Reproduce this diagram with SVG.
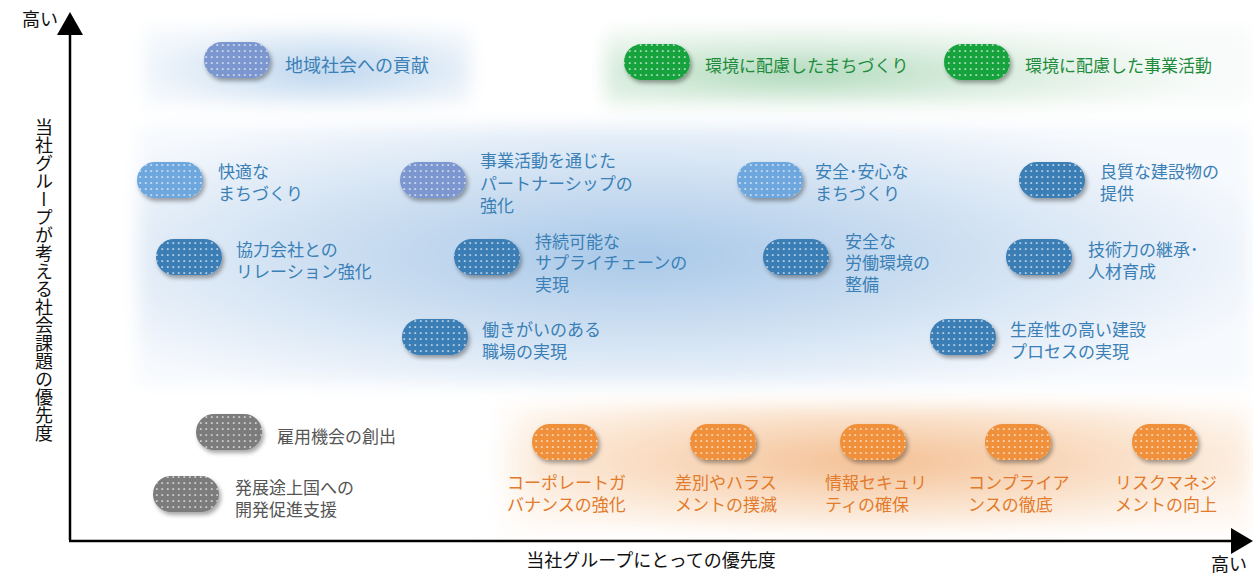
<svg xmlns="http://www.w3.org/2000/svg" width="1253" height="576" viewBox="0 0 1253 576">
<style>
text{font-family:"Noto Sans CJK JP","Noto Sans",sans-serif;font-size:17px}
.ax{font-size:18px;fill:#111}
.tb{fill:#3a80b6}.tg{fill:#1f8c3d}.tk{fill:#555}.to{fill:#e27b2b}
.pl{filter:url(#sh)}
.dots{fill:url(#dp)}
.c1{fill:#7b97d0}.c2{fill:#6ea7dd}.c3{fill:#3b7db5}.c4{fill:#17a23c}.c5{fill:#7b7b7b}.c6{fill:#f0903a}
</style>
<defs>
<pattern id="dp" width="5.5" height="6" patternUnits="userSpaceOnUse">
<circle cx="2.75" cy="3" r="0.85" fill="#fff"/>
</pattern>
<filter id="sh" x="-20%" y="-30%" width="150%" height="180%">
<feDropShadow dx="2" dy="3" stdDeviation="2" flood-color="#000" flood-opacity="0.35"/>
</filter>
<filter id="bl" x="-10%" y="-30%" width="120%" height="160%"><feGaussianBlur stdDeviation="9"/></filter>
<radialGradient id="gTop" cx="0.55" cy="0.55" r="0.6">
<stop offset="0" stop-color="#bcd5ee"/><stop offset="0.6" stop-color="#deeaf6"/><stop offset="1" stop-color="#f4f8fc"/>
</radialGradient>
<radialGradient id="gGreen" cx="0.3" cy="0.6" r="0.65">
<stop offset="0" stop-color="#acd8b8"/><stop offset="0.45" stop-color="#d7ecdc"/><stop offset="1" stop-color="#f8fbf9"/>
</radialGradient>
<radialGradient id="gBlue" cx="0.45" cy="0.5" r="0.6">
<stop offset="0" stop-color="#a8c8e8"/><stop offset="0.5" stop-color="#cfe0f2"/><stop offset="1" stop-color="#f6f9fd"/>
</radialGradient>
<radialGradient id="gOr" cx="0.5" cy="0.45" r="0.6">
<stop offset="0" stop-color="#f4bf92"/><stop offset="0.5" stop-color="#f9dcc2"/><stop offset="1" stop-color="#fef7f0"/>
</radialGradient>
<linearGradient id="fadeL" x1="0" x2="1" y1="0" y2="0">
<stop offset="0" stop-color="#fff"/><stop offset="1" stop-color="#fff" stop-opacity="0"/>
</linearGradient>
</defs>
<rect width="1253" height="576" fill="#fff"/>
<g id="backgrounds">
<g filter="url(#bl)">
<rect x="145" y="28" width="325" height="76" fill="url(#gTop)"/>
<rect x="605" y="28" width="645" height="76" fill="url(#gGreen)"/>
<rect x="138" y="126" width="1112" height="258" fill="url(#gBlue)"/>
<rect x="495" y="405" width="755" height="124" fill="url(#gOr)"/>
</g>
<rect x="480" y="395" width="60" height="140" fill="url(#fadeL)"/>
</g>
<g id="axes">
<line x1="70" y1="540" x2="70" y2="32" stroke="#000" stroke-width="2.5"/>
<polygon points="70,12 57,35 83,35" fill="#000"/>
<line x1="69" y1="541" x2="1234" y2="541" stroke="#000" stroke-width="2.5"/>
<polygon points="1253,541 1231,528 1231,554" fill="#000"/>
<text class="ax" x="22" y="26">高い</text>
<text class="ax" x="1211" y="571">高い</text>
<text class="ax" x="651" y="567" text-anchor="middle">当社グループにとっての優先度</text>
<text class="ax" x="44" y="118" style="writing-mode:vertical-rl" text-anchor="start">当社グループが考える社会課題の優先度</text>
</g>
<g id="n1"><g class="pl"><rect x="204" y="42" width="66" height="36" rx="18" class="c1"/></g><rect x="204" y="42" width="66" height="36" rx="18" class="dots"/><text class="tb" x="285" y="72" style="font-size:18px">地域社会への貢献</text></g>
<g id="n2"><g class="pl"><rect x="624" y="44" width="66" height="36" rx="18" class="c4"/></g><rect x="624" y="44" width="66" height="36" rx="18" class="dots"/><text class="tg" x="705" y="72">環境に配慮したまちづくり</text></g>
<g id="n3"><g class="pl"><rect x="944" y="44" width="66" height="36" rx="18" class="c4"/></g><rect x="944" y="44" width="66" height="36" rx="18" class="dots"/><text class="tg" x="1025" y="72">環境に配慮した事業活動</text></g>
<g id="n4"><g class="pl"><rect x="137" y="162" width="66" height="36" rx="18" class="c2"/></g><rect x="137" y="162" width="66" height="36" rx="18" class="dots"/><text class="tb" x="218" y="178">快適な<tspan x="218" dy="22">まちづくり</tspan></text></g>
<g id="n5"><g class="pl"><rect x="400" y="162" width="66" height="36" rx="18" class="c1"/></g><rect x="400" y="162" width="66" height="36" rx="18" class="dots"/><text class="tb" x="480" y="167">事業活動を通じた<tspan x="480" dy="23">パートナーシップの</tspan><tspan x="480" dy="22">強化</tspan></text></g>
<g id="n6"><g class="pl"><rect x="737" y="162" width="66" height="36" rx="18" class="c2"/></g><rect x="737" y="162" width="66" height="36" rx="18" class="dots"/><text class="tb" x="815" y="178">安全･安心な<tspan x="815" dy="22">まちづくり</tspan></text></g>
<g id="n7"><g class="pl"><rect x="1019" y="162" width="66" height="36" rx="18" class="c3"/></g><rect x="1019" y="162" width="66" height="36" rx="18" class="dots"/><text class="tb" x="1100" y="178">良質な建設物の<tspan x="1100" dy="22">提供</tspan></text></g>
<g id="n8"><g class="pl"><rect x="156" y="239" width="66" height="36" rx="18" class="c3"/></g><rect x="156" y="239" width="66" height="36" rx="18" class="dots"/><text class="tb" x="236" y="256">協力会社との<tspan x="236" dy="22">リレーション強化</tspan></text></g>
<g id="n9"><g class="pl"><rect x="454" y="239" width="66" height="36" rx="18" class="c3"/></g><rect x="454" y="239" width="66" height="36" rx="18" class="dots"/><text class="tb" x="535" y="248">持続可能な<tspan x="535" dy="21">サプライチェーンの</tspan><tspan x="535" dy="22">実現</tspan></text></g>
<g id="n10"><g class="pl"><rect x="763" y="239" width="66" height="36" rx="18" class="c3"/></g><rect x="763" y="239" width="66" height="36" rx="18" class="dots"/><text class="tb" x="845" y="248">安全な<tspan x="845" dy="21">労働環境の</tspan><tspan x="845" dy="22">整備</tspan></text></g>
<g id="n11"><g class="pl"><rect x="1006" y="239" width="66" height="36" rx="18" class="c3"/></g><rect x="1006" y="239" width="66" height="36" rx="18" class="dots"/><text class="tb" x="1088" y="256">技術力の継承･<tspan x="1088" dy="22">人材育成</tspan></text></g>
<g id="n12"><g class="pl"><rect x="402" y="319" width="66" height="36" rx="18" class="c3"/></g><rect x="402" y="319" width="66" height="36" rx="18" class="dots"/><text class="tb" x="482" y="336">働きがいのある<tspan x="482" dy="22">職場の実現</tspan></text></g>
<g id="n13"><g class="pl"><rect x="930" y="319" width="66" height="36" rx="18" class="c3"/></g><rect x="930" y="319" width="66" height="36" rx="18" class="dots"/><text class="tb" x="1010" y="336">生産性の高い建設<tspan x="1010" dy="22">プロセスの実現</tspan></text></g>
<g id="n14"><g class="pl"><rect x="196" y="414" width="66" height="36" rx="18" class="c5"/></g><rect x="196" y="414" width="66" height="36" rx="18" class="dots"/><text class="tk" x="277" y="443">雇用機会の創出</text></g>
<g id="n15"><g class="pl"><rect x="153" y="476" width="66" height="36" rx="18" class="c5"/></g><rect x="153" y="476" width="66" height="36" rx="18" class="dots"/><text class="tk" x="235" y="494">発展途上国への<tspan x="235" dy="22">開発促進支援</tspan></text></g>
<g id="n16"><g class="pl"><rect x="532" y="424" width="66" height="36" rx="18" class="c6"/></g><rect x="532" y="424" width="66" height="36" rx="18" class="dots"/><text class="to" x="507" y="489">コーポレートガ<tspan x="507" dy="22">バナンスの強化</tspan></text></g>
<g id="n17"><g class="pl"><rect x="690" y="424" width="66" height="36" rx="18" class="c6"/></g><rect x="690" y="424" width="66" height="36" rx="18" class="dots"/><text class="to" x="675" y="489">差別やハラス<tspan x="675" dy="22">メントの撲滅</tspan></text></g>
<g id="n18"><g class="pl"><rect x="840" y="424" width="66" height="36" rx="18" class="c6"/></g><rect x="840" y="424" width="66" height="36" rx="18" class="dots"/><text class="to" x="825" y="489">情報セキュリ<tspan x="825" dy="22">ティの確保</tspan></text></g>
<g id="n19"><g class="pl"><rect x="985" y="424" width="66" height="36" rx="18" class="c6"/></g><rect x="985" y="424" width="66" height="36" rx="18" class="dots"/><text class="to" x="968" y="489">コンプライア<tspan x="968" dy="22">ンスの徹底</tspan></text></g>
<g id="n20"><g class="pl"><rect x="1132" y="424" width="66" height="36" rx="18" class="c6"/></g><rect x="1132" y="424" width="66" height="36" rx="18" class="dots"/><text class="to" x="1115" y="489">リスクマネジ<tspan x="1115" dy="22">メントの向上</tspan></text></g>
<g id="connectors"/>
</svg>
